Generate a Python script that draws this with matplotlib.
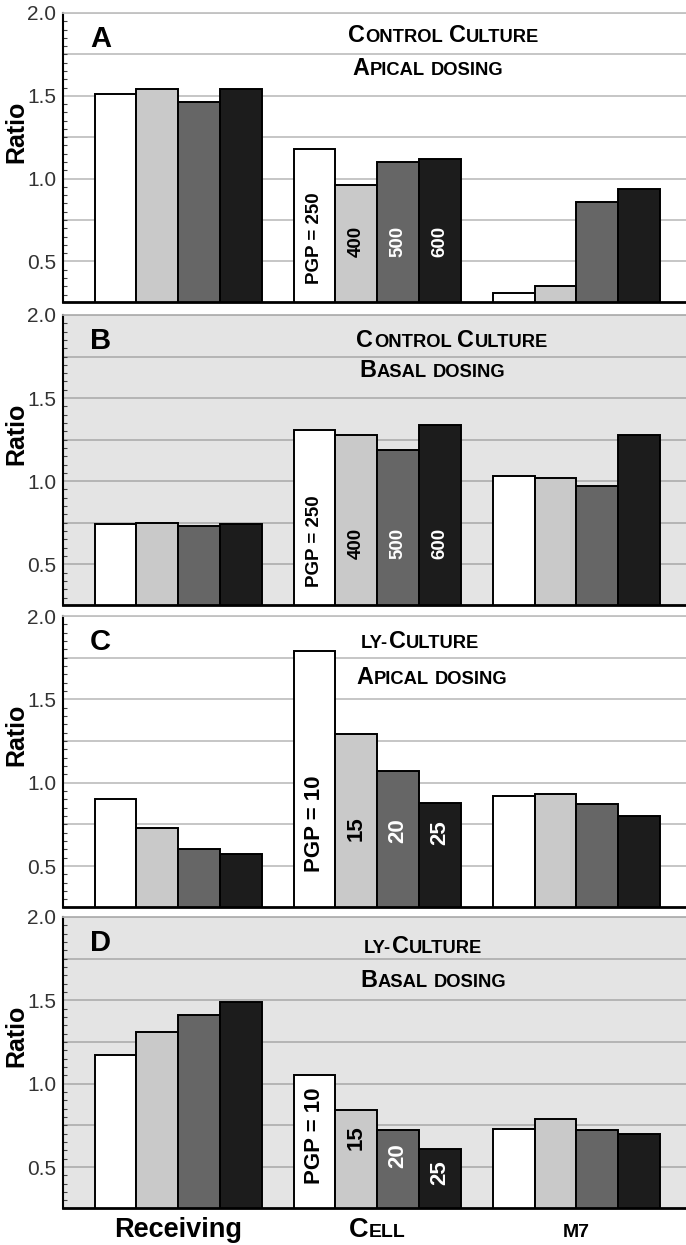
import matplotlib
matplotlib.use("Agg")
import matplotlib.pyplot as plt
from matplotlib.ticker import MultipleLocator
from matplotlib.transforms import offset_copy, blended_transform_factory
import numpy as np

plt.rcParams['font.family'] = ['Liberation Sans', 'DejaVu Sans']

# ---- data -------------------------------------------------------------
groups = ["Receiving", "Cell", "m7"]
panel_letters = ["A", "B", "C", "D"]
culture_titles = ["Control Culture", "Control Culture", "ly-Culture", "ly-Culture"]
dosing_titles = ["Apical dosing", "Basal dosing", "Apical dosing", "Basal dosing"]
pgp_control = ["PGP = 250", "400", "500", "600"]
pgp_ly = ["PGP = 10", "15", "20", "25"]

# rows: Receiving, Cell, m7 ; columns: the four PGP levels
ratio_a = [[1.51, 1.54, 1.46, 1.54], [1.18, 0.96, 1.10, 1.12], [0.31, 0.35, 0.86, 0.94]]
ratio_b = [[0.74, 0.75, 0.73, 0.74], [1.31, 1.28, 1.19, 1.34], [1.03, 1.02, 0.97, 1.28]]
ratio_c = [[0.90, 0.73, 0.60, 0.57], [1.79, 1.29, 1.07, 0.88], [0.92, 0.93, 0.87, 0.80]]
ratio_d = [[1.17, 1.31, 1.41, 1.49], [1.05, 0.84, 0.72, 0.61], [0.73, 0.79, 0.72, 0.70]]

panels = [ratio_a, ratio_b, ratio_c, ratio_d]
pgp_labels = [pgp_control, pgp_control, pgp_ly, pgp_ly]

# ---- layout / style ---------------------------------------------------
W, H = 686, 1245
tops = [13, 315, 616, 917]
bottoms = [302, 605, 907, 1208]
left_px = 63
backgrounds = ["#ffffff", "#e4e4e4", "#ffffff", "#e4e4e4"]
grid_colors = ["#c2c2c2", "#b0b0b0", "#c2c2c2", "#b0b0b0"]
bar_colors = ["#ffffff", "#c9c9c9", "#666666", "#1c1c1c"]
label_colors = ["black", "black", "white", "white"]
bar_label_size = [13.5, 13.5, 16, 16]
bar_label_y = [[0.64, 0.62, 0.62, 0.62],
               [0.64, 0.625, 0.625, 0.625],
               [0.755, 0.725, 0.71, 0.70],
               [0.69, 0.675, 0.57, 0.47]]
title_pos = [((0.457, 0.900), (0.464, 0.785)),
             ((0.471, 0.890), (0.475, 0.786)),
             ((0.478, 0.890), (0.471, 0.766)),
             ((0.483, 0.876), (0.477, 0.759))]
group_smallcaps = [False, True, True]
bar_width = 0.21

fig = plt.figure(figsize=(W / 100, H / 100), dpi=100)
renderer = fig.canvas.get_renderer()


def smallcaps_runs(text):
    runs = []
    for ch in text:
        if ch == " ":
            runs.append((" ", None))
            continue
        kind = "big" if ch.isupper() else "small"
        if runs and runs[-1][1] == kind:
            runs[-1] = (runs[-1][0] + ch.upper(), kind)
        else:
            runs.append((ch.upper(), kind))
    return runs


def draw_smallcaps(ax, x, y, text, big, small, transform, ha="left", **kw):
    pieces = []
    dx = 0.0
    for s, kind in smallcaps_runs(text):
        if kind is None:
            dx += 0.28 * small * fig.dpi / 72
            continue
        size = big if kind == "big" else small
        t = ax.text(x, y, s, fontsize=size, fontweight="bold", ha="left",
                    va="baseline", transform=transform, **kw)
        w = t.get_window_extent(renderer).width
        pieces.append((t, dx))
        dx += w + 0.6
    shift = -dx / 2 if ha == "center" else 0.0
    for t, off in pieces:
        t.set_transform(offset_copy(transform, fig=fig, x=off + shift, y=0, units="dots"))
    return pieces


x = np.arange(len(groups))
axes = []
for i, data in enumerate(panels):
    ax = fig.add_axes([left_px / W, 1 - bottoms[i] / H,
                       1 - left_px / W, (bottoms[i] - tops[i]) / H])
    axes.append(ax)
    ax.set_facecolor(backgrounds[i])
    ax.set_xlim(-0.579, 2.551)
    ax.set_ylim(0.255, 2.0)

    for g in np.arange(0.5, 2.01, 0.25):
        ax.axhline(g, color=grid_colors[i], lw=1.3, zorder=1)

    vals = np.array(data)
    for k in range(vals.shape[1]):
        ax.bar(x + (k - 1.5) * bar_width, vals[:, k], bar_width,
               color=bar_colors[k], edgecolor="black", linewidth=1.4, zorder=2)

    # PGP level labels inside the Cell bars
    for k, lab in enumerate(pgp_labels[i]):
        ax.text(x[1] + (k - 1.5) * bar_width, bar_label_y[i][k], lab,
                rotation=90, ha="center", va="center", fontsize=bar_label_size[i],
                fontweight="bold", color=label_colors[k], zorder=3)

    # spines and ticks
    ax.spines["right"].set_visible(False)
    ax.spines["top"].set_color(grid_colors[i])
    ax.spines["top"].set_linewidth(1.3)
    ax.spines["left"].set_linewidth(1.5)
    ax.spines["bottom"].set_linewidth(2.0)
    ax.set_xticks([])
    ax.set_yticks([0.5, 1.0, 1.5, 2.0])
    ax.set_yticklabels(["0.5", "1.0", "1.5", "2.0"])
    ax.yaxis.set_minor_locator(MultipleLocator(0.05))
    ax.tick_params(axis="y", which="major", length=0, pad=5,
                   labelsize=15, labelcolor="#333333")
    ax.tick_params(axis="y", which="minor", direction="in", length=3,
                   width=0.8, color="#444444")

    ax.text(0.043, 0.882, panel_letters[i], transform=ax.transAxes,
            fontsize=21, fontweight="bold", ha="left", va="baseline")
    ax.text(-0.0746, 0.59, "Ratio", transform=ax.transAxes, rotation=90,
            ha="center", va="center", fontsize=18, fontweight="bold")

    (tx1, ty1), (tx2, ty2) = title_pos[i]
    draw_smallcaps(ax, tx1, ty1, culture_titles[i], 16.8, 13.2, ax.transAxes)
    draw_smallcaps(ax, tx2, ty2, dosing_titles[i], 16.8, 13.2, ax.transAxes)

# group labels under the bottom panel
ax = axes[-1]
blend = blended_transform_factory(ax.transData, ax.transAxes)
for gx, name, sc in zip(x, groups, group_smallcaps):
    if sc:
        draw_smallcaps(ax, gx, -0.101, name, 19.5, 14, blend, ha="center")
    else:
        ax.text(gx, -0.101, name, transform=blend, ha="center", va="baseline",
                fontsize=19.5, fontweight="bold")

fig.savefig("out.png", dpi=100)
